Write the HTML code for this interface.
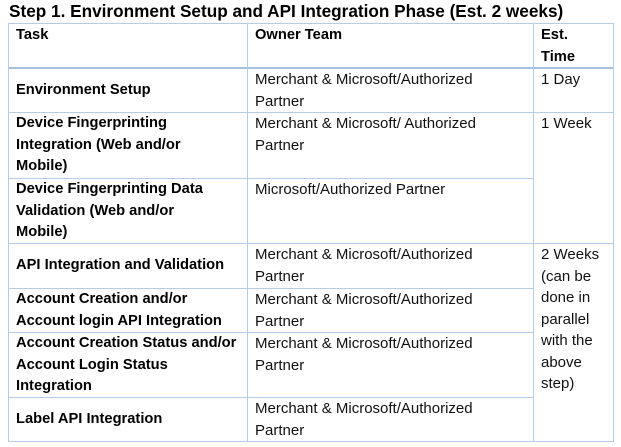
<!DOCTYPE html>
<html><head><style>
body{margin:0;width:621px;height:447px;background:#fff;position:relative;overflow:hidden;font-family:"Liberation Sans",sans-serif;color:#000}
.t{position:absolute;font-size:15px;line-height:21.5px;white-space:nowrap;color:#111}
.b{font-weight:bold;font-size:14.7px;color:#000}
.h{position:absolute;background:#b4cde6;height:1px}
.v{position:absolute;background:#b4cde6;width:1px}
</style></head><body>
<div class="t b" style="left:9px;top:0px;font-size:17.2px;line-height:22px">Step 1. Environment Setup and API Integration Phase (Est. 2 weeks)</div>
<div class="h" style="left:8px;top:23px;width:606px"></div>
<div class="h" style="left:8px;top:67px;width:606px;height:2px;background:#a5c1e0"></div>
<div class="h" style="left:8px;top:112px;width:606px"></div>
<div class="h" style="left:8px;top:178px;width:525px"></div>
<div class="h" style="left:8px;top:243px;width:606px"></div>
<div class="h" style="left:8px;top:288px;width:525px"></div>
<div class="h" style="left:8px;top:332px;width:525px"></div>
<div class="h" style="left:8px;top:397px;width:525px"></div>
<div class="h" style="left:8px;top:441px;width:606px"></div>
<div class="v" style="left:8px;top:23px;height:419px"></div>
<div class="v" style="left:247px;top:23px;height:419px"></div>
<div class="v" style="left:533px;top:23px;height:419px"></div>
<div class="v" style="left:613px;top:23px;height:419px"></div>

<div class="t b" style="left:16px;top:25px">Task</div>
<div class="t b" style="left:255px;top:25px">Owner Team</div>
<div class="t b" style="left:541px;top:25px">Est.<br>Time</div>

<div class="t b" style="left:16px;top:80px">Environment Setup</div>
<div class="t" style="left:255px;top:69px">Merchant &amp; Microsoft/Authorized<br>Partner</div>
<div class="t" style="left:541px;top:69px">1 Day</div>

<div class="t b" style="left:16px;top:113px">Device Fingerprinting<br>Integration (Web and/or<br>Mobile)</div>
<div class="t" style="left:255px;top:113px">Merchant &amp; Microsoft/ Authorized<br>Partner</div>
<div class="t" style="left:541px;top:113px">1 Week</div>

<div class="t b" style="left:16px;top:179px">Device Fingerprinting Data<br>Validation (Web and/or<br>Mobile)</div>
<div class="t" style="left:255px;top:179px">Microsoft/Authorized Partner</div>

<div class="t b" style="left:16px;top:255px">API Integration and Validation</div>
<div class="t" style="left:255px;top:244px">Merchant &amp; Microsoft/Authorized<br>Partner</div>
<div class="t" style="left:541px;top:244px">2 Weeks<br>(can be<br>done in<br>parallel<br>with the<br>above<br>step)</div>

<div class="t b" style="left:16px;top:289px">Account Creation and/or<br>Account login API Integration</div>
<div class="t" style="left:255px;top:289px">Merchant &amp; Microsoft/Authorized<br>Partner</div>

<div class="t b" style="left:16px;top:333px">Account Creation Status and/or<br>Account Login Status<br>Integration</div>
<div class="t" style="left:255px;top:333px">Merchant &amp; Microsoft/Authorized<br>Partner</div>

<div class="t b" style="left:16px;top:409px">Label API Integration</div>
<div class="t" style="left:255px;top:398px">Merchant &amp; Microsoft/Authorized<br>Partner</div>
</body></html>
